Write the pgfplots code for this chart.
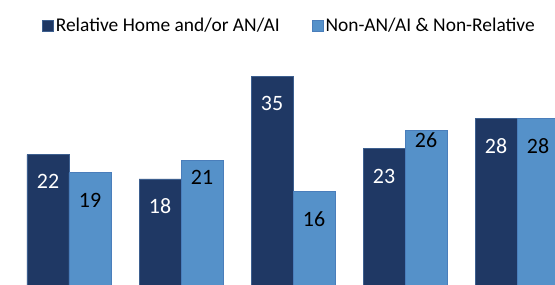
\documentclass[border=0pt]{standalone}
\usepackage{fontspec}
\setmainfont{Carlito}
\usepackage{pgfplots}
\pgfplotsset{compat=1.18}
\usepackage{pgfplotstable}
\definecolor{darkbar}{HTML}{1F3864}
\definecolor{lightbar}{HTML}{5591C9}
\definecolor{edgeD}{HTML}{3D5F8F}
\definecolor{edgeL}{HTML}{4A7EBB}

\pgfplotstableread{
x a aoff b boff
0 22 -27 19 -27
1 18 -27 21 -17
2 35 -27 16 -28
3 23 -28 26 -10
4 28 -28 28 -28
}\data

\begin{document}
\begin{tikzpicture}
\begin{axis}[
  width=555bp, height=285bp, scale only axis,
  xmin=-0.616, xmax=4.339, ymin=0.48, ymax=47.56,
  axis lines=none, ticks=none,
  ybar=0pt, bar width=42bp,
  clip=true,
  /pgf/number format/assume math mode=true,
  legend style={draw=none, fill=none, font=\fontsize{19.5}{22}\selectfont,
    at={(0.07,0.91)}, anchor=west, /tikz/every even column/.append style={column sep=30bp}},
  legend columns=2,
  legend image code/.code={\fill[#1] (0bp,-5.5bp) rectangle (11bp,5.5bp);},
  nodes near coords,
  every node near coord/.append style={anchor=center, font=\fontsize{22}{24}\selectfont},
]
\addplot[fill=darkbar, draw=edgeD, line width=0.8bp,
  visualization depends on={\thisrow{aoff} \as \off},
  every node near coord/.append style={text=white, yshift=\off bp}]
  table[x=x, y=a] {\data};
\addlegendentry{Relative Home and/or AN/AI}
\addplot[fill=lightbar, draw=edgeL, line width=0.8bp,
  visualization depends on={\thisrow{boff} \as \off},
  every node near coord/.append style={text=black, yshift=\off bp}]
  table[x=x, y=b] {\data};
\addlegendentry{Non-AN/AI \& Non-Relative}
\end{axis}
\pgfresetboundingbox
\path (current axis.south west) rectangle (current axis.north east);
\end{tikzpicture}
\end{document}
